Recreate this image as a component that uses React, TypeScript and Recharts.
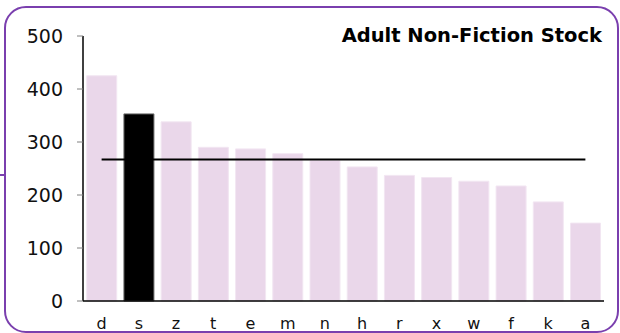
import React from 'react';
import { BarChart, Bar, XAxis, YAxis, Cell, ReferenceLine } from 'recharts';

// Stock per branch, sorted high to low; 's' is the highlighted branch
const branches = ['d', 's', 'z', 't', 'e', 'm', 'n', 'h', 'r', 'x', 'w', 'f', 'k', 'a'];
const stock = [425, 353, 338, 290, 287, 278, 265, 253, 237, 233, 226, 217, 187, 147];
const highlighted = 's';
const average = 267;
const yTicks = [0, 100, 200, 300, 400, 500];

const data = branches.map((branch, i) => ({ branch, stock: stock[i] }));

const font = '"DejaVu Sans", Verdana, sans-serif';
const purple = '#7a3fae';

const App: React.FC = () => {
    return (
        <div style={{ position: 'absolute', left: 0, top: 0, width: 620, height: 333, background: '#fff', fontFamily: font }}>
            {/* rounded frame and the little stub on its left edge */}
            <div
                style={{
                    position: 'absolute',
                    left: 4,
                    top: 6,
                    width: 611,
                    height: 323,
                    border: `2px solid ${purple}`,
                    borderRadius: 22,
                }}
            />
            <div style={{ position: 'absolute', left: 0, top: 174, width: 6, height: 2, background: purple }} />

            <div style={{ position: 'absolute', left: 0, top: 0 }}>
                <BarChart
                    width={620}
                    height={333}
                    data={data}
                    margin={{ top: 36, right: 16, bottom: 2, left: 23 }}
                    barCategoryGap="10%"
                >
                    <XAxis
                        dataKey="branch"
                        axisLine={{ stroke: '#000', strokeWidth: 1.5 }}
                        tickLine={false}
                        tickSize={0}
                        tickMargin={17}
                        height={30}
                        interval={0}
                        tick={{ fill: '#111', fontSize: 16, fontFamily: font }}
                    />
                    <YAxis
                        domain={[0, 500]}
                        ticks={yTicks}
                        width={60}
                        axisLine={{ stroke: '#000', strokeWidth: 1.5 }}
                        tickLine={{ stroke: '#808080' }}
                        tickSize={6}
                        tickMargin={14}
                        tick={{ fill: '#111', fontSize: 19, fontFamily: font }}
                    />
                    <Bar dataKey="stock" isAnimationActive={false}>
                        {data.map((d) => (
                            <Cell
                                key={d.branch}
                                fill={d.branch === highlighted ? '#000' : '#ead7ea'}
                                stroke={d.branch === highlighted ? '#6a6a6a' : '#f2e6f2'}
                                strokeWidth={1}
                            />
                        ))}
                    </Bar>
                    <ReferenceLine
                        segment={[
                            { x: branches[0], y: average },
                            { x: branches[branches.length - 1], y: average },
                        ]}
                        stroke="#000"
                        strokeWidth={2}
                        ifOverflow="visible"
                    />
                </BarChart>
            </div>

            <svg width={620} height={333} style={{ position: 'absolute', left: 0, top: 0, pointerEvents: 'none' }}>
                <text x={602} y={42} textAnchor="end" fontFamily={font} fontWeight="bold" fontSize={19.5} fill="#000">
                    Adult Non-Fiction Stock
                </text>
            </svg>
        </div>
    );
};

export default App;
